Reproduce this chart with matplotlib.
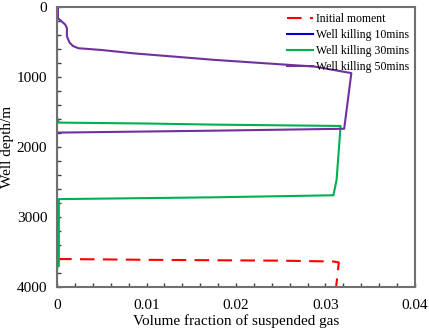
import numpy as np
import matplotlib.pyplot as plt
from matplotlib.ticker import MultipleLocator, FuncFormatter

plt.rcParams['font.family'] = ['Liberation Serif', 'DejaVu Serif']

# data: gas fraction (x) against well depth in m (y)
init_x = [0.0, 0.0100, 0.0249, 0.0309, 0.0315, 0.0312]
init_y = [3600, 3612, 3624, 3636, 3650, 4000]

k10_x = [0.0, 0.0]
k10_y = [0, 4000]

k30_x = [0.0, 0.0002, 0.0100, 0.0177, 0.0317, 0.03125, 0.0309, 0.0177, 0.0002, 0.0002, 0.0]
k30_y = [1590, 1652, 1665, 1681, 1700, 2470, 2690, 2719, 2745, 3700, 3720]

k50_x = [0.0001, 0.0001, 0.0009, 0.0011, 0.0011, 0.0014, 0.0018, 0.0024, 0.0050, 0.0085,
         0.0177, 0.0288, 0.0329, 0.0321, 0.0177, 0.0]
k50_y = [0, 160, 250, 300, 420, 510, 560, 590, 615, 662,
         757, 852, 945, 1740, 1767, 1795]

fig = plt.figure(figsize=(4.29, 3.31), dpi=100)
ax = fig.add_axes([0.133, 0.133, 0.834, 0.846])

ax.plot(k10_x, k10_y, color="#0000cc", lw=1.5, label="Well killing 10mins", zorder=1)
ax.plot(init_x, init_y, color="#ff0000", lw=1.5, dashes=(7, 4), label="Initial moment")
ax.plot(k30_x, k30_y, color="#00b050", lw=1.5, label="Well killing 30mins")
ax.plot(k50_x, k50_y, color="#7030a0", lw=1.5, label="Well killing 50mins")

ax.set_xlim(0, 0.04)
ax.set_ylim(4000, 0)
ax.xaxis.set_major_locator(MultipleLocator(0.01))
ax.xaxis.set_minor_locator(MultipleLocator(0.002))
ax.yaxis.set_major_locator(MultipleLocator(1000))
ax.yaxis.set_minor_locator(MultipleLocator(200))
ax.xaxis.set_major_formatter(FuncFormatter(lambda v, p: "0" if abs(v) < 1e-9 else f"{v:.2f}"))
ax.tick_params(which="both", direction="in", length=3, width=1, color="#404040",
               top=False, right=False, labelsize=11)
ax.tick_params(axis="x", pad=9)
ax.tick_params(axis="y", pad=7)

for s in ax.spines.values():
    s.set_color("#707070")
    s.set_linewidth(1.5)

ax.set_xlabel("Volume fraction of suspended gas", fontsize=11, labelpad=1)
ax.set_ylabel("Well depth/m", fontsize=11, labelpad=2)

h, l = ax.get_legend_handles_labels()
order = [1, 0, 2, 3]
ax.legend([h[i] for i in order], [l[i] for i in order], loc="upper right",
          frameon=False, fontsize=8.5, handlelength=2.2, handletextpad=0.2,
          labelspacing=0.35, borderaxespad=0.1)

fig.savefig("out.png", dpi=100)
